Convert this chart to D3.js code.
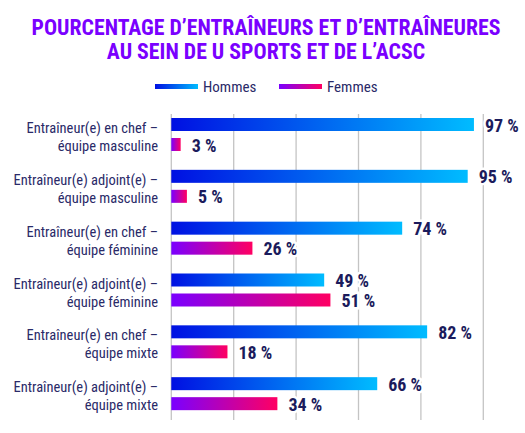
<!DOCTYPE html>
<html><head><meta charset="utf-8">
<script src="https://cdn.jsdelivr.net/npm/d3@7"></script>
<style>
body{margin:0;background:#fff;}
svg{display:block;font-family:"Liberation Sans Narrow","Roboto Condensed","DejaVu Sans Condensed",sans-serif;}
</style></head><body>
<svg id="c" width="525" height="433"></svg>
<script>
const titleLines = ["POURCENTAGE D’ENTRAÎNEURS ET D’ENTRAÎNEURES", "AU SEIN DE U SPORTS ET DE L’ACSC"];
const categories = [
  ["Entraîneur(e) en chef –", "équipe masculine"],
  ["Entraîneur(e) adjoint(e) –", "équipe masculine"],
  ["Entraîneur(e) en chef –", "équipe féminine"],
  ["Entraîneur(e) adjoint(e) –", "équipe féminine"],
  ["Entraîneur(e) en chef –", "équipe mixte"],
  ["Entraîneur(e) adjoint(e) –", "équipe mixte"]
];
const seriesNames = ["Hommes", "Femmes"];
const hommes = [97, 95, 74, 49, 82, 66];
const femmes = [3, 5, 26, 51, 18, 34];
const gridTicks = [0, 20, 40, 60, 80, 100];

const svg = d3.select("#c");
const navy = "#1b1b5c";
const labNavy = "#2a2a68";
const defs = svg.append("defs");
function grad(id, c1, c2){
  const g = defs.append("linearGradient").attr("id", id);
  g.append("stop").attr("offset","0%").attr("stop-color", c1);
  g.append("stop").attr("offset","100%").attr("stop-color", c2);
}
grad("gH", "#0010e2", "#00bcff");
grad("gF", "#7a00ff", "#ff0062");
const grads = ["url(#gH)", "url(#gF)"];

// title
svg.append("g").selectAll("text").data(titleLines).join("text")
  .attr("x", 266).attr("y", (d,i)=>34.5 + i*24)
  .attr("text-anchor","middle").attr("font-weight","bold").attr("font-size", 21.8)
  .attr("fill", "#7a00ff").text(d=>d);

// legend
const leg = svg.append("g");
const legX = [155, 279];
seriesNames.forEach((s,i)=>{
  leg.append("rect").attr("x", legX[i]).attr("y", 84).attr("width", 43).attr("height", 5).attr("fill", grads[i]);
  leg.append("text").attr("x", legX[i]+48).attr("y", 92).attr("font-size", 15).attr("fill", labNavy).text(s);
});

const x = d3.scaleLinear().domain([0,100]).range([171.3, 483.3]);
const y = d3.scaleBand().domain(d3.range(categories.length)).range([111, 422]).paddingInner(0).paddingOuter(0);
const barH = 13, gap = 7;

// gridlines
svg.append("g").selectAll("line").data(gridTicks).join("line")
  .attr("x1", d=>x(d)).attr("x2", d=>x(d)).attr("y1", 114).attr("y2", 420)
  .attr("stroke", "#c4c4c4").attr("stroke-width", 1.3);

const groups = svg.append("g").selectAll("g").data(categories).join("g")
  .attr("transform", (d,i)=>`translate(0,${y(i) + 7})`);

const series = [hommes, femmes];
series.forEach((vals, s)=>{
  groups.append("rect")
    .attr("x", x(0)).attr("y", s*(barH+gap))
    .attr("width", (d,i)=>x(vals[i]) - x(0)).attr("height", barH)
    .attr("fill", grads[s]);
  groups.append("text")
    .attr("x", (d,i)=>x(vals[i]) + 11).attr("y", s*(barH+gap) + barH/2 + 7)
    .attr("font-weight","bold").attr("font-size", 18).attr("fill", navy)
    .attr("stroke", "#fff").attr("stroke-width", 5).attr("paint-order", "stroke")
    .text((d,i)=>vals[i] + " %");
});

// category labels
const lab = groups.append("text").attr("text-anchor","end").attr("font-size", 14.5).attr("fill", labNavy);
lab.append("tspan").attr("x", 158).attr("y", 15).text(d=>d[0]);
lab.append("tspan").attr("x", 158).attr("y", 33).text(d=>d[1]);
</script></body></html>
